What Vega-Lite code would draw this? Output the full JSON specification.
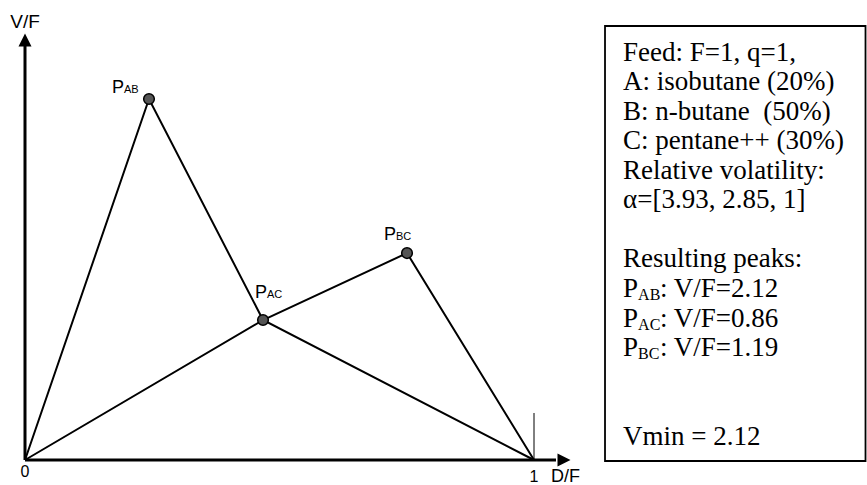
{
  "$schema": "https://vega.github.io/schema/vega-lite/v6.json",
  "width": 867,
  "height": 485,
  "padding": 0,
  "autosize": {"type": "none"},
  "config": {"view": {"stroke": null}},
  "datasets": {
    "paths": [
      {"path": "A", "order": 0, "x": 0, "y": 0},
      {"path": "A", "order": 1, "x": 0.2436, "y": 2.12},
      {"path": "A", "order": 2, "x": 0.4676, "y": 0.822},
      {"path": "A", "order": 3, "x": 1, "y": 0},
      {"path": "B", "order": 0, "x": 0, "y": 0},
      {"path": "B", "order": 1, "x": 0.4676, "y": 0.822},
      {"path": "B", "order": 2, "x": 0.7505, "y": 1.215},
      {"path": "B", "order": 3, "x": 1, "y": 0}
    ],
    "peaks": [
      {"name": "AB", "x": 0.2436, "y": 2.12},
      {"name": "AC", "x": 0.4676, "y": 0.822},
      {"name": "BC", "x": 0.7505, "y": 1.215}
    ],
    "peakLabels": [
      {"sub": "AB", "x": 0.1945, "y": 2.155},
      {"sub": "AC", "x": 0.4754, "y": 0.951},
      {"sub": "BC", "x": 0.7289, "y": 1.292}
    ],
    "axes": [
      {"x": 0, "y": 0, "x2": 0, "y2": 2.431},
      {"x": 0, "y": 0, "x2": 1.0432, "y2": 0}
    ],
    "boxLines": [
      {"t": "Feed: F=1, q=1,", "y": 2.3429},
      {"t": "A: isobutane (20%)", "y": 2.1697},
      {"t": "B: n-butane \u00a0(50%)", "y": 1.9965},
      {"t": "C: pentane++ (30%)", "y": 1.8233},
      {"t": "Relative volatility:", "y": 1.65},
      {"t": "α=[3.93, 2.85, 1]", "y": 1.4768},
      {"t": "Resulting peaks:", "y": 1.1304},
      {"t": "Vmin = 2.12", "y": 0.091}
    ],
    "boxPeaks": [
      {"sub": "AB", "val": ": V/F=2.12", "y": 0.9571},
      {"sub": "AC", "val": ": V/F=0.86", "y": 0.7839},
      {"sub": "BC", "val": ": V/F=1.19", "y": 0.6107}
    ]
  },
  "layer": [
    {
      "data": {"name": "paths"},
      "mark": {"type": "line", "color": "black", "strokeWidth": 2},
      "encoding": {
        "x": {"field": "x", "type": "quantitative", "scale": {"domain": [-0.04912, 1.65422], "nice": false, "zero": false}, "axis": null},
        "y": {"field": "y", "type": "quantitative", "scale": {"domain": [-0.1468, 2.7011], "nice": false, "zero": false}, "axis": null},
        "detail": {"field": "path"},
        "order": {"field": "order"}
      }
    },
    {
      "data": {"name": "axes"},
      "mark": {"type": "rule", "color": "black", "strokeWidth": 3},
      "encoding": {
        "x": {"field": "x", "type": "quantitative"},
        "y": {"field": "y", "type": "quantitative"},
        "x2": {"field": "x2"},
        "y2": {"field": "y2"}
      }
    },
    {
      "data": {"values": [{"x": 0, "y": 2.466}]},
      "mark": {"type": "point", "shape": "M0,-1L-1,1L1,1Z", "filled": true, "color": "black", "size": 169, "opacity": 1},
      "encoding": {
        "x": {"field": "x", "type": "quantitative"},
        "y": {"field": "y", "type": "quantitative"}
      }
    },
    {
      "data": {"values": [{"x": 1.0589, "y": 0}]},
      "mark": {"type": "point", "shape": "M1,0L-1,-1L-1,1Z", "filled": true, "color": "black", "size": 169, "opacity": 1},
      "encoding": {
        "x": {"field": "x", "type": "quantitative"},
        "y": {"field": "y", "type": "quantitative"}
      }
    },
    {
      "data": {"values": [{"x": 1, "y": 0, "y2": 0.276}]},
      "mark": {"type": "rule", "color": "black", "strokeWidth": 1},
      "encoding": {
        "x": {"field": "x", "type": "quantitative"},
        "y": {"field": "y", "type": "quantitative"},
        "y2": {"field": "y2"}
      }
    },
    {
      "data": {"name": "peaks"},
      "mark": {"type": "point", "filled": true, "fill": "#555555", "stroke": "black", "strokeWidth": 1.5, "size": 113, "opacity": 1},
      "encoding": {
        "x": {"field": "x", "type": "quantitative"},
        "y": {"field": "y", "type": "quantitative"}
      }
    },
    {
      "data": {"name": "peakLabels"},
      "mark": {"type": "text", "text": "P", "align": "right", "baseline": "alphabetic", "font": "Liberation Sans", "fontSize": 18, "color": "black"},
      "encoding": {
        "x": {"field": "x", "type": "quantitative"},
        "y": {"field": "y", "type": "quantitative"}
      }
    },
    {
      "data": {"name": "peakLabels"},
      "mark": {"type": "text", "align": "left", "baseline": "alphabetic", "font": "Liberation Sans", "fontSize": 11, "color": "black"},
      "encoding": {
        "x": {"field": "x", "type": "quantitative"},
        "y": {"field": "y", "type": "quantitative"},
        "text": {"field": "sub"}
      }
    },
    {
      "data": {"values": [
        {"t": "V/F", "x": 0, "y": 2.535, "s": "a"},
        {"t": "0", "x": 0, "y": -0.0998, "s": "b"},
        {"t": "1", "x": 1, "y": -0.127, "s": "b"}
      ]},
      "mark": {"type": "text", "align": "center", "baseline": "alphabetic", "font": "Liberation Sans", "color": "black"},
      "encoding": {
        "x": {"field": "x", "type": "quantitative"},
        "y": {"field": "y", "type": "quantitative"},
        "text": {"field": "t"},
        "size": {"field": "s", "type": "nominal", "scale": {"domain": ["a", "b"], "range": [19, 16]}, "legend": null}
      }
    },
    {
      "data": {"values": [{"t": "D/F", "x": 1.0334, "y": -0.127}]},
      "mark": {"type": "text", "align": "left", "baseline": "alphabetic", "font": "Liberation Sans", "fontSize": 18, "color": "black"},
      "encoding": {
        "x": {"field": "x", "type": "quantitative"},
        "y": {"field": "y", "type": "quantitative"},
        "text": {"field": "t"}
      }
    },
    {
      "data": {"values": [{"x": 1.1395, "x2": 1.6513, "y": -0.006, "y2": 2.5485}]},
      "mark": {"type": "rect", "fill": null, "fillOpacity": 0, "stroke": "black", "strokeWidth": 1.8},
      "encoding": {
        "x": {"field": "x", "type": "quantitative"},
        "x2": {"field": "x2"},
        "y": {"field": "y", "type": "quantitative"},
        "y2": {"field": "y2"}
      }
    },
    {
      "data": {"name": "boxLines"},
      "mark": {"type": "text", "align": "left", "baseline": "alphabetic", "font": "Liberation Serif", "fontSize": 27, "color": "black"},
      "encoding": {
        "x": {"datum": 1.1749, "type": "quantitative"},
        "y": {"field": "y", "type": "quantitative"},
        "text": {"field": "t"}
      }
    },
    {
      "data": {"name": "boxPeaks"},
      "mark": {"type": "text", "text": "P", "align": "left", "baseline": "alphabetic", "font": "Liberation Serif", "fontSize": 27, "color": "black"},
      "encoding": {
        "x": {"datum": 1.1749, "type": "quantitative"},
        "y": {"field": "y", "type": "quantitative"}
      }
    },
    {
      "data": {"name": "boxPeaks"},
      "mark": {"type": "text", "align": "left", "baseline": "alphabetic", "font": "Liberation Serif", "fontSize": 16, "dy": 3, "color": "black"},
      "encoding": {
        "x": {"datum": 1.2045, "type": "quantitative"},
        "y": {"field": "y", "type": "quantitative"},
        "text": {"field": "sub"}
      }
    },
    {
      "data": {"name": "boxPeaks"},
      "mark": {"type": "text", "align": "left", "baseline": "alphabetic", "font": "Liberation Serif", "fontSize": 27, "color": "black"},
      "encoding": {
        "x": {"datum": 1.2475, "type": "quantitative"},
        "y": {"field": "y", "type": "quantitative"},
        "text": {"field": "val"}
      }
    }
  ]
}
